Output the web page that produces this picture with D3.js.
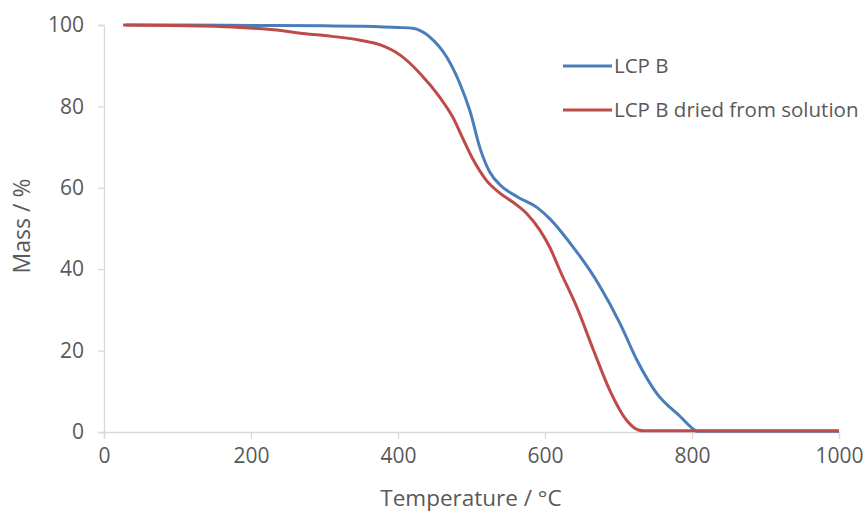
<!DOCTYPE html>
<html><head><meta charset="utf-8">
<script src="https://cdn.jsdelivr.net/npm/d3@7"></script>
<style>body{margin:0;background:#fff}svg{display:block}text{font-family:"Open Sans",sans-serif;fill:#595959}</style>
</head><body><svg id="c" width="866" height="513"></svg>
<script>
const seriesNames = ["LCP B", "LCP B dried from solution"];
const blueT = [30,100,200,300,350,375,400,420,443,466,484,498,512,525,539,562,589,607,638,660,675,702,725,752,784,802,806,1000];
const blueM = [100,100,99.9,99.8,99.7,99.6,99.4,99.2,97.1,92.2,85.7,78.8,69.5,63.8,60.7,57.8,55.2,52.3,45.5,40,35.7,26.7,17.7,9.5,3.8,0.7,0.2,0.2];
const redT = [26,130,185,243,267,300,350,376,403,430,457,475,488,502,520,540,560,575,593,607,620,643,666,688,711,727,735,1000];
const redM = [100,99.75,99.4,98.6,98,97.4,96.2,95.1,92.6,88.1,82.2,77.2,72.2,67,61.9,58.5,56,53.7,49.6,45.2,39.8,30.8,20.1,10.3,2.9,0.5,0.3,0.3];
const xTicks = [0,200,400,600,800,1000];
const yTicks = [0,20,40,60,80,100];
const colors = ["#4a7ebb", "#be4b48"];

const svg = d3.select("#c");
const x = d3.scaleLinear().domain([0,1000]).range([104,839]);
const y = d3.scaleLinear().domain([0,100]).range([432,25]);

const gx = svg.append("g").attr("transform","translate(0,432)")
  .call(d3.axisBottom(x).tickValues(xTicks).tickFormat(d3.format("d")).tickSize(7).tickPadding(12));
const gy = svg.append("g").attr("transform","translate(104,0)")
  .call(d3.axisLeft(y).tickValues(yTicks).tickFormat(d3.format("d")).tickSize(6).tickPadding(14));
[gx,gy].forEach(g=>{
  g.selectAll("path,line").attr("stroke","#d9d9d9").attr("stroke-width",1.3);
  g.selectAll("text").attr("font-size",21).attr("fill","#595959").attr("font-family","'Open Sans',sans-serif");
});
gx.selectAll("text").attr("dy","0.55em");

const line = d3.line().x(d=>x(d[0])).y(d=>y(d[1])).curve(d3.curveMonotoneX);
const blue = blueT.map((t,i)=>[t,blueM[i]]);
const red = redT.map((t,i)=>[t,redM[i]]);
[blue,red].forEach((s,i)=>{
  svg.append("path").datum(s).attr("d",line).attr("fill","none")
    .attr("stroke",colors[i]).attr("stroke-width",3).attr("stroke-linejoin","round");
});

const lg = svg.append("g");
seriesNames.forEach((n,i)=>{
  const yy = 66 + i*44;
  lg.append("line").attr("x1",563).attr("x2",612).attr("y1",yy).attr("y2",yy)
    .attr("stroke",colors[i]).attr("stroke-width",3);
  lg.append("text").attr("x",614).attr("y",yy).attr("dy","0.36em").attr("font-size",20.5).text(n);
});

svg.append("text").attr("x",471).attr("y",498).attr("dy","0.36em").attr("text-anchor","middle")
  .attr("font-size",22.5).text("Temperature / °C");
svg.append("text").attr("transform","translate(22,226) rotate(-90)").attr("dy","0.36em")
  .attr("text-anchor","middle").attr("font-size",23).text("Mass / %");
</script></body></html>
